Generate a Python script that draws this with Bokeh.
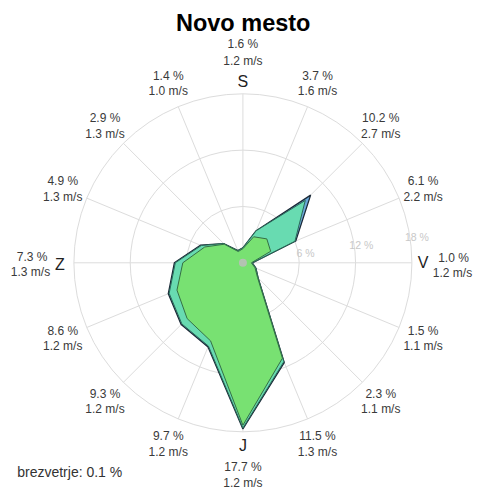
import numpy as np
from bokeh.plotting import figure
from bokeh.models import Range1d
from bokeh.core.properties import value
from bokeh.embed import file_html
from bokeh.resources import INLINE

# ---------------- data ----------------
title = "Novo mesto"
directions = ["S", "SSV", "SV", "VSV", "V", "VJV", "JV", "JJV",
              "J", "JJZ", "JZ", "ZJZ", "Z", "ZSZ", "SZ", "SSZ"]
freq = [1.6, 3.7, 10.2, 6.1, 1.0, 1.5, 2.3, 11.5, 17.7, 9.7, 9.3, 8.6, 7.3, 4.9, 2.9, 1.4]
speed = [1.2, 1.6, 2.7, 2.2, 1.2, 1.1, 1.1, 1.3, 1.2, 1.2, 1.2, 1.2, 1.3, 1.3, 1.3, 1.0]
class_low = [1.5, 3.0, 3.6, 3.2, 0.9, 1.4, 2.2, 11.0, 17.3, 9.0, 8.4, 7.6, 6.4, 4.4, 2.8, 1.3]
class_mid = [0.1, 0.7, 5.8, 2.8, 0.1, 0.1, 0.1, 0.4, 0.3, 0.6, 0.8, 0.9, 0.8, 0.4, 0.1, 0.1]
class_high = [0.0, 0.0, 0.8, 0.1, 0.0, 0.0, 0.0, 0.1, 0.1, 0.1, 0.1, 0.1, 0.1, 0.1, 0.0, 0.0]
calm = 0.1
rings = [6, 12, 18]
ring_labels = ["6 %", "12 %", "18 %"]
cardinals = {0: "S", 4: "V", 8: "J", 12: "Z"}

# ---------------- layout ----------------
W, H = 479, 490
PX = 169.0 / 18.0          # pixels per percent
CX, CY = 242.4, 262.3      # centre of rose in canvas pixels

p = figure(width=W, height=H,
           x_range=Range1d(-CX / PX, (W - CX) / PX),
           y_range=Range1d(-(H - CY) / PX, CY / PX),
           output_backend="svg", toolbar_location=None, min_border=0,
           x_axis_location=None, y_axis_location=None)
p.grid.visible = False
p.outline_line_color = None
p.background_fill_color = "white"

FONT = value("Liberation Sans")
ang = np.deg2rad(np.arange(16) * 22.5)
sx, cy_ = np.sin(ang), np.cos(ang)
RMAX = rings[-1]

# grid
p.circle(x=[0] * len(rings), y=[0] * len(rings), radius=rings,
         fill_color=None, line_color="#dcdcdc", line_width=1)
p.segment(x0=np.zeros(16), y0=np.zeros(16), x1=RMAX * sx, y1=RMAX * cy_,
          line_color="#dcdcdc", line_width=1)

# stacked rose
low = np.array(class_low)
mid = low + np.array(class_mid)
tot = mid + np.array(class_high)
layers = [
    (tot, "#5d9fd6", "#1c2a38", 1.3),
    (mid, "#68dfae", "#2b6a58", 1.0),
    (low, "#79e26d", "#356f45", 1.0),
]
for r, fc, lc, lw in layers:
    p.patch(x=list(r * sx), y=list(r * cy_), fill_color=fc, fill_alpha=0.92,
            line_color=lc, line_width=lw)

# calm dot
p.scatter(x=[0], y=[0], size=8, marker="circle", fill_color="#bdbdbd",
          fill_alpha=0.85, line_color=None)

# ring labels
lab_ang = np.deg2rad(81.5)
rl = [(r * PX + 7) / PX for r in rings]
p.text(x=[v * np.sin(lab_ang) for v in rl], y=[v * np.cos(lab_ang) for v in rl],
       text=ring_labels, text_font=FONT, text_font_size="10.5px",
       text_color="#c8c8c8", text_align="center", text_baseline="middle")

# direction labels
pct_x, pct_y, spd_x, spd_y, pct_t, spd_t = [], [], [], [], [], []
for i in range(16):
    if i == 0:
        px1, py1, px2, py2 = 0, -219, 0, -202
    elif i == 8:
        px1, py1, px2, py2 = 0, 204.4, 0, 220.4
    elif i == 4:
        px1, py1, px2, py2 = 210.6, -5.3, 209.6, 9.7
    elif i == 12:
        px1, py1, px2, py2 = -210.7, -5.6, -212.4, 9.4
    else:
        bx = 195 * sx[i]
        by = -195 * cy_[i] + 1
        px1, py1, px2, py2 = bx, by - 7.8, bx, by + 7.8
    pct_x.append(px1 / PX); pct_y.append(-py1 / PX)
    spd_x.append(px2 / PX); spd_y.append(-py2 / PX)
    pct_t.append(f"{freq[i]:.1f} %")
    spd_t.append(f"{speed[i]:.1f} m/s")

p.text(x=pct_x + spd_x, y=pct_y + spd_y, text=pct_t + spd_t,
       text_font=FONT, text_font_size="12px", text_color="#3a3a3a",
       text_align="center", text_baseline="middle")

# cardinal letters
card_off = {0: (0, -181.3), 4: (180.3, 0), 8: (0, 182.7), 12: (-183.1, 1.7)}
cx_l = [card_off[i][0] / PX for i in cardinals]
cy_l = [-card_off[i][1] / PX for i in cardinals]
p.text(x=cx_l, y=cy_l, text=list(cardinals.values()), text_font=FONT,
       text_font_size="16px", text_color="#222222",
       text_align="center", text_baseline="middle")

# title
p.text(x=[0.3 / PX], y=[239.6 / PX], text=[title], text_font=FONT,
       text_font_size="23.5px", text_font_style="bold", text_color="#000000",
       text_align="center", text_baseline="middle")

# calm text
p.text(x=[-225.7 / PX], y=[-208.7 / PX], text=[f"brezvetrje: {calm:.1f} %"],
       text_font=FONT, text_font_size="14px", text_color="#333333",
       text_align="left", text_baseline="middle")

open("out.html", "w").write(file_html(p, INLINE))
